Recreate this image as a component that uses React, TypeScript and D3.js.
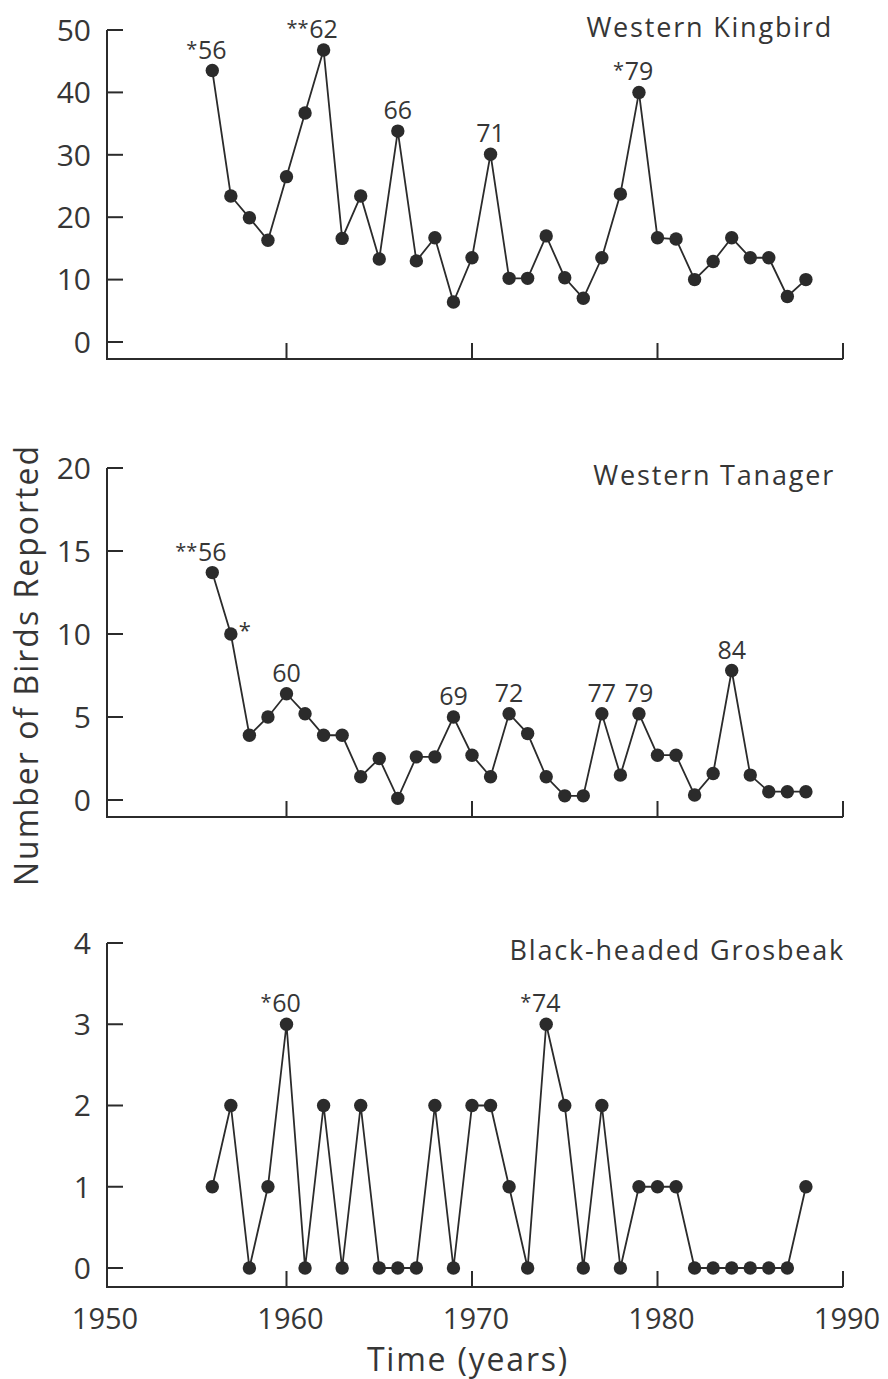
import React, { useEffect, useRef } from "react";
import * as d3 from "d3";

// survey years (x categories)
const years = [
  1956, 1957, 1958, 1959, 1960, 1961, 1962, 1963, 1964, 1965, 1966,
  1967, 1968, 1969, 1970, 1971, 1972, 1973, 1974, 1975, 1976, 1977,
  1978, 1979, 1980, 1981, 1982, 1983, 1984, 1985, 1986, 1987, 1988,
];

// birds reported per year
const kingbird = [
  43.5, 23.4, 19.9, 16.3, 26.5, 36.7, 46.8, 16.6, 23.4, 13.3, 33.8,
  13.0, 16.7, 6.4, 13.5, 30.1, 10.2, 10.2, 17.0, 10.3, 7.0, 13.5,
  23.7, 40.0, 16.7, 16.5, 10.0, 12.9, 16.7, 13.5, 13.5, 7.3, 10.0,
];
const tanager = [
  13.7, 10.0, 3.9, 5.0, 6.4, 5.2, 3.9, 3.9, 1.4, 2.5, 0.1,
  2.6, 2.6, 5.0, 2.7, 1.4, 5.2, 4.0, 1.4, 0.25, 0.25, 5.2,
  1.5, 5.2, 2.7, 2.7, 0.3, 1.6, 7.8, 1.5, 0.5, 0.5, 0.5,
];
const grosbeak = [
  1, 2, 0, 1, 3, 0, 2, 0, 2, 0, 0,
  0, 2, 0, 2, 2, 1, 0, 3, 2, 0, 2,
  0, 1, 1, 1, 0, 0, 0, 0, 0, 0, 1,
];

// peak labels: year, number shown, asterisks, asterisk side
const kingbirdNotes = [
  { year: 1956, label: "56", stars: "*" },
  { year: 1962, label: "62", stars: "**" },
  { year: 1966, label: "66", stars: "" },
  { year: 1971, label: "71", stars: "" },
  { year: 1979, label: "79", stars: "*" },
];
const tanagerNotes = [
  { year: 1956, label: "56", stars: "**" },
  { year: 1957, label: "", stars: "*", right: true },
  { year: 1960, label: "60", stars: "" },
  { year: 1969, label: "69", stars: "" },
  { year: 1972, label: "72", stars: "" },
  { year: 1977, label: "77", stars: "" },
  { year: 1979, label: "79", stars: "" },
  { year: 1984, label: "84", stars: "" },
];
const grosbeakNotes = [
  { year: 1960, label: "60", stars: "*" },
  { year: 1974, label: "74", stars: "*" },
];

const kingbirdTicks = [0, 10, 20, 30, 40, 50];
const tanagerTicks = [0, 5, 10, 15, 20];
const grosbeakTicks = [0, 1, 2, 3, 4];
const xTicks = [1950, 1960, 1970, 1980, 1990];

const W = 888;
const H = 1379;
const INK = "#2b2b2b";
const TXT = "#363636";
const FONT = "'Open Sans', 'Noto Sans', sans-serif";

export default function App() {
  const svgRef = useRef<SVGSVGElement>(null);

  useEffect(() => {
    const svg = d3.select(svgRef.current);
    svg.selectAll("*").remove();

    const x = d3.scaleLinear().domain([1950, 1990]).range([101, 843]);
    const axisX = 107;

    const panels = [
      { title: "Western Kingbird", values: kingbird, notes: kingbirdNotes, ticks: kingbirdTicks, top: 30, zero: 342, base: 359, titleY: 37, titleX: 833 },
      { title: "Western Tanager", values: tanager, notes: tanagerNotes, ticks: tanagerTicks, top: 468, zero: 800, base: 817, titleY: 485, titleX: 835 },
      { title: "Black-headed Grosbeak", values: grosbeak, notes: grosbeakNotes, ticks: grosbeakTicks, top: 943, zero: 1268, base: 1287, titleY: 960, titleX: 845 },
    ];

    panels.forEach((p, pi) => {
      const y = d3.scaleLinear()
        .domain([0, p.ticks[p.ticks.length - 1]])
        .range([p.zero, p.top]);
      const g = svg.append("g");

      // axes: y line + x line, ticks inward
      g.append("path")
        .attr("d", `M${axisX},${y(p.ticks[p.ticks.length - 1])}V${p.base}H${x(1990)}`)
        .attr("fill", "none").attr("stroke", INK).attr("stroke-width", 2);

      g.selectAll("line.yt").data(p.ticks).join("line")
        .attr("x1", axisX).attr("x2", axisX + 16)
        .attr("y1", (d) => y(d)).attr("y2", (d) => y(d))
        .attr("stroke", INK).attr("stroke-width", 2);

      g.selectAll("text.yl").data(p.ticks).join("text")
        .attr("x", 91).attr("y", (d) => y(d)).attr("dy", "0.36em")
        .attr("text-anchor", "end")
        .attr("font-size", 30).attr("fill", TXT).attr("font-family", FONT)
        .text((d) => d);

      g.selectAll("line.xt").data(xTicks.slice(1)).join("line")
        .attr("x1", (d) => x(d)).attr("x2", (d) => x(d))
        .attr("y1", p.base).attr("y2", p.base - 16)
        .attr("stroke", INK).attr("stroke-width", 2);

      if (pi == 2) {
        g.selectAll("text.xl").data(xTicks).join("text")
          .attr("x", (d) => x(d) + 4).attr("y", p.base + 42)
          .attr("text-anchor", "middle")
          .attr("font-size", 29).attr("fill", TXT).attr("font-family", FONT)
          .text((d) => d);
      }

      // title
      g.append("text")
        .attr("x", p.titleX).attr("y", p.titleY)
        .attr("text-anchor", "end")
        .attr("font-size", 27).attr("letter-spacing", 1.8)
        .attr("fill", TXT).attr("font-family", FONT)
        .text(p.title);

      const pts = years.map((yr, i) => [x(yr), y(p.values[i])] as [number, number]);

      g.append("path")
        .attr("d", d3.line()(pts))
        .attr("fill", "none").attr("stroke", INK).attr("stroke-width", 1.8);

      g.selectAll("circle").data(pts).join("circle")
        .attr("cx", (d) => d[0]).attr("cy", (d) => d[1]).attr("r", 6.7)
        .attr("fill", INK);

      // peak labels
      p.notes.forEach((n) => {
        const i = years.indexOf(n.year);
        const px = x(n.year);
        const py = y(p.values[i]);
        if (n.right) {
          g.append("text")
            .attr("x", px + 8).attr("y", py + 4)
            .attr("font-size", 22).attr("fill", TXT).attr("font-family", FONT)
            .text(n.stars);
          return;
        }
        g.append("text")
          .attr("x", px).attr("y", py - 12)
          .attr("text-anchor", "middle")
          .attr("font-size", 25).attr("fill", TXT).attr("font-family", FONT)
          .text(n.label);
        if (n.stars) {
          g.append("text")
            .attr("x", px - 15).attr("y", py - 15)
            .attr("text-anchor", "end")
            .attr("font-size", 20).attr("fill", TXT).attr("font-family", FONT)
            .text(n.stars);
        }
      });
    });

    // axis titles
    svg.append("text")
      .attr("transform", "translate(38,665) rotate(-90)")
      .attr("text-anchor", "middle")
      .attr("font-size", 32).attr("letter-spacing", 2)
      .attr("fill", TXT).attr("font-family", FONT)
      .text("Number of Birds Reported");

    svg.append("text")
      .attr("x", 468).attr("y", 1371)
      .attr("text-anchor", "middle")
      .attr("font-size", 32).attr("letter-spacing", 1.8)
      .attr("fill", TXT).attr("font-family", FONT)
      .text("Time (years)");
  }, []);

  return (
    <div style={{ position: "absolute", left: 0, top: 0 }}>
      <svg ref={svgRef} width={W} height={H} style={{ display: "block", background: "#fff" }}></svg>
    </div>
  );
}
